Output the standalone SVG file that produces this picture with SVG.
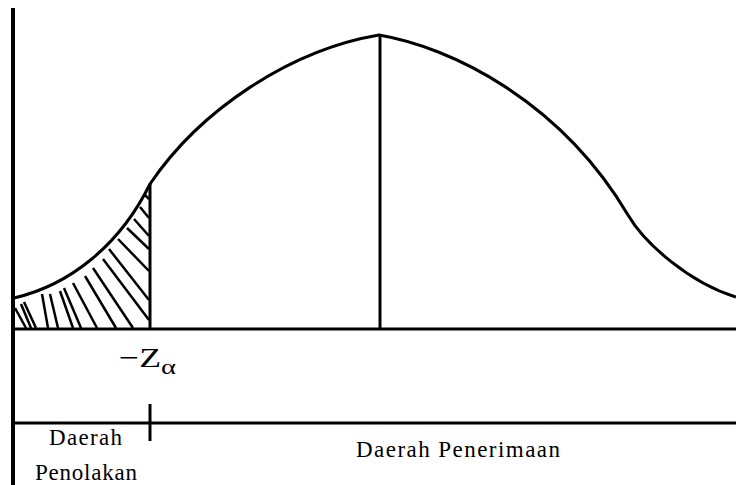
<svg xmlns="http://www.w3.org/2000/svg" width="736" height="485" viewBox="0 0 736 485">
<style>
.ln{stroke:#000;stroke-width:3;fill:none;stroke-linecap:butt}
.curve{stroke:#000;stroke-width:3;fill:none;stroke-linejoin:round}
.hatch{stroke:#000;stroke-width:2.5;fill:none}
.lbl{font-family:"Liberation Serif","Times New Roman",serif;font-size:23px;fill:#000}
.sym{font-family:"Liberation Serif","Times New Roman",serif;fill:#000}
</style>
<rect width="736" height="485" fill="#fff"/>
<g id="axes">
<line class="ln" x1="13" y1="8" x2="13" y2="485" style="stroke-width:4"/>
<line class="ln" x1="11" y1="329" x2="736" y2="329"/>
<line class="ln" x1="11" y1="423" x2="736" y2="423"/>
<line class="ln" x1="150" y1="404" x2="150" y2="441"/>
</g>
<g id="curve">
<path class="curve" d="M14,298 C70,285 120,245 150,184 C200,110 290,50 379,35 C450,47 560,100 628,215 C645,244 690,283 736,297"/>
<line class="ln" x1="150" y1="184" x2="150" y2="329"/>
<line class="ln" x1="380" y1="35" x2="380" y2="329"/>
</g>
<g id="hatching">
<line class="hatch" x1="15" y1="308" x2="26" y2="328"/>
<line class="hatch" x1="21" y1="304" x2="31" y2="328"/>
<line class="hatch" x1="24" y1="302" x2="36" y2="328"/>
<line class="hatch" x1="42" y1="294" x2="48" y2="328"/>
<line class="hatch" x1="50" y1="294" x2="58" y2="328"/>
<line class="hatch" x1="60" y1="291" x2="73" y2="328"/>
<line class="hatch" x1="64" y1="288" x2="81" y2="328"/>
<line class="hatch" x1="73" y1="283" x2="97" y2="328"/>
<line class="hatch" x1="85" y1="276" x2="116" y2="328"/>
<line class="hatch" x1="93" y1="268" x2="133" y2="328"/>
<line class="hatch" x1="103" y1="259" x2="149" y2="320"/>
<line class="hatch" x1="109" y1="249" x2="149" y2="300"/>
<line class="hatch" x1="118" y1="239" x2="149" y2="271"/>
<line class="hatch" x1="127" y1="228" x2="149" y2="249"/>
<line class="hatch" x1="134" y1="219" x2="149" y2="236"/>
<line class="hatch" x1="140" y1="207" x2="149" y2="218"/>
<line class="hatch" x1="144" y1="194" x2="149" y2="199"/>
</g>
<g id="z-alpha">
<text class="sym" x="119" y="367" font-size="28" textLength="42" lengthAdjust="spacingAndGlyphs">−Z</text>
<text class="sym" x="161" y="374" font-size="20" textLength="15" lengthAdjust="spacingAndGlyphs">α</text>
</g>
<g id="labels">
<text class="lbl" x="49" y="445" textLength="73">Daerah</text>
<text class="lbl" x="35" y="480" textLength="102">Penolakan</text>
<text class="lbl" x="356" y="457" textLength="204">Daerah Penerimaan</text>
</g>
</svg>
